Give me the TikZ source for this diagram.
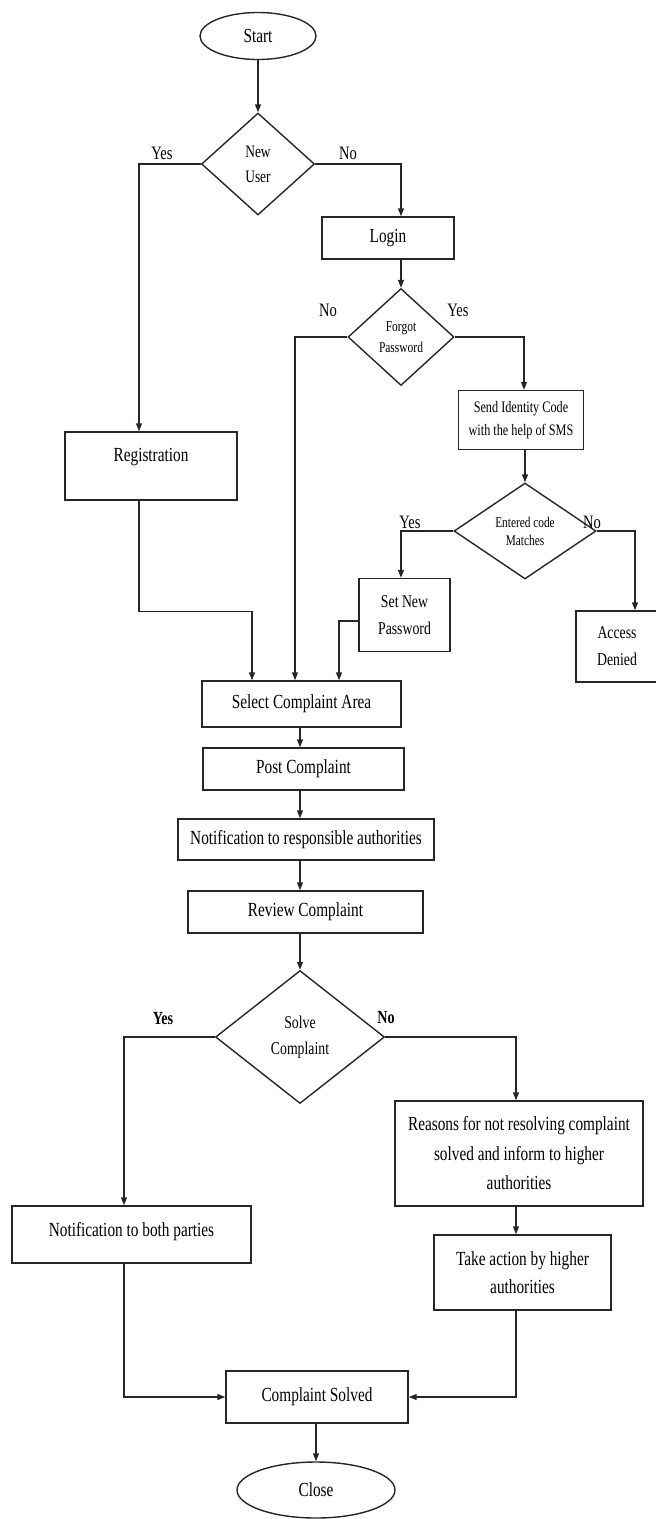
\documentclass[tikz,border=0pt]{standalone}
\usepackage{fontspec}
\setmainfont{Liberation Serif}[FakeStretch=0.765]
\usetikzlibrary{shapes.geometric,arrows.meta}
\newcommand\myfs[2]{\fontsize{#1}{#2}\selectfont}
\tikzset{
  boxnode/.style={draw=black!85, line width=1.4pt, rectangle, inner sep=0pt, align=center, font=\myfs{20}{27}},
  dianode/.style={draw=black!85, line width=1.4pt, diamond, inner sep=0pt, align=center},
  ellnode/.style={draw=black!85, line width=1.4pt, ellipse, inner sep=0pt, font=\myfs{20}{24}},
  lbl/.style={inner sep=0pt, font=\myfs{19}{22}},
  blbl/.style={inner sep=0pt, font=\bfseries\myfs{18.5}{22}},
  arr/.style={line width=1.4pt, draw=black!85, -{Triangle[length=8pt,width=6pt]}},
}
\begin{document}
\begin{tikzpicture}[x=1pt,y=-1pt]
\useasboundingbox (0,0) rectangle (656,1519);
% nodes
\node[ellnode, minimum width=116, minimum height=47] (start) at (258,36) {Start};
\node[dianode, minimum width=113, minimum height=102, font=\myfs{17.5}{25}] (nu) at (258,164) {New\\User};
\node[boxnode, minimum width=132, minimum height=42] (login) at (388,238) {Login};
\node[dianode, minimum width=106, minimum height=97, font=\myfs{15}{21}] (forgot) at (401,337) {Forgot\\Password};
\node[boxnode, minimum width=172, minimum height=68, text depth=22pt] (reg) at (151,466) {Registration};
\node[boxnode, minimum width=125, minimum height=59, font=\myfs{16}{23}] (send) at (521,420) {Send Identity Code\\with the help of SMS};
\node[dianode, minimum width=142, minimum height=96, font=\myfs{14.8}{18}] (entered) at (525,531) {Entered code\\Matches};
\node[boxnode, minimum width=91, minimum height=73, font=\myfs{18}{27}] (setnew) at (404.5,615) {Set New\\Password};
\node[boxnode, minimum width=82, minimum height=71, font=\myfs{18}{27}] (access) at (617,646.5) {Access\\Denied};
\node[boxnode, minimum width=199, minimum height=46] (sel) at (301.5,704) {Select Complaint Area};
\node[boxnode, minimum width=201, minimum height=42] (post) at (303.5,769) {Post Complaint};
\node[boxnode, minimum width=256, minimum height=41] (notif) at (306,839.5) {Notification to responsible authorities};
\node[boxnode, minimum width=235, minimum height=42] (review) at (305.5,912) {Review Complaint};
\node[dianode, minimum width=169, minimum height=133, font=\myfs{18}{26}] (solve) at (300,1037) {Solve\\Complaint};
\node[boxnode, minimum width=239, minimum height=57, text depth=10pt] (nb) at (131.5,1234.5) {Notification to both parties};
\node[boxnode, minimum width=248, minimum height=105, font=\myfs{20}{29.5}] (reasons) at (519,1153.5) {Reasons for not resolving complaint\\solved and inform to higher\\authorities};
\node[boxnode, minimum width=177, minimum height=75, font=\myfs{20}{28}] (take) at (522.5,1272.5) {Take action by higher\\authorities};
\node[boxnode, minimum width=182, minimum height=52] (cs) at (317,1397) {Complaint Solved};
\node[ellnode, minimum width=158, minimum height=56] (close) at (316,1490) {Close};
% labels
\node[lbl] (l1) at (162,153) {Yes};
\node[lbl] (l2) at (348,153) {No};
\node[lbl] (l3) at (328,310) {No};
\node[lbl] (l4) at (458,310) {Yes};
\node[lbl] (l5) at (410,522) {Yes};
\node[lbl] (l6) at (592,522) {No};
\node[blbl] (l7) at (163,1019) {Yes};
\node[blbl] (l8) at (386,1018) {No};
% connectors
\draw[arr] (start) -- (nu);
\draw[arr] (nu.west) -| ([xshift=-12pt]reg.north);
\draw[arr] (nu.east) -| ([xshift=13pt]login.north);
\draw[arr] ([xshift=13pt]login.south) -- (forgot.north);
\draw[arr] (forgot.west) -| ([xshift=-6.5pt]sel.north);
\draw[arr] (forgot.east) -| ([xshift=3pt]send.north);
\draw[arr] ([xshift=4pt]send.south) -- (entered.north);
\draw[arr] (entered.west) -| ([xshift=-3.5pt]setnew.north);
\draw[arr] (entered.east) -| ([xshift=18pt]access.north);
\draw[arr] ([xshift=-12pt]reg.south) -- ++(0,111) -| ([xshift=-49.5pt]sel.north);
\draw[arr] ([yshift=-6pt]setnew.west) -| ([xshift=37.5pt]sel.north);
\draw[arr] (sel.south -| solve.north) -- (post.north -| solve.north);
\draw[arr] (post.south -| solve.north) -- (notif.north -| solve.north);
\draw[arr] (notif.south -| solve.north) -- (review.north -| solve.north);
\draw[arr] (review.south -| solve.north) -- (solve.north);
\draw[arr] (solve.west) -| ([xshift=-7.5pt]nb.north);
\draw[arr] (solve.east) -| ([xshift=-3pt]reasons.north);
\draw[arr] ([xshift=-3pt]reasons.south) -- ([xshift=-6.5pt]take.north);
\draw[arr] ([xshift=-6.5pt]take.south) |- (cs.east);
\draw[arr] ([xshift=-7.5pt]nb.south) |- (cs.west);
\draw[arr] ([xshift=-1pt]cs.south) -- (close.north);
\end{tikzpicture}
\end{document}
